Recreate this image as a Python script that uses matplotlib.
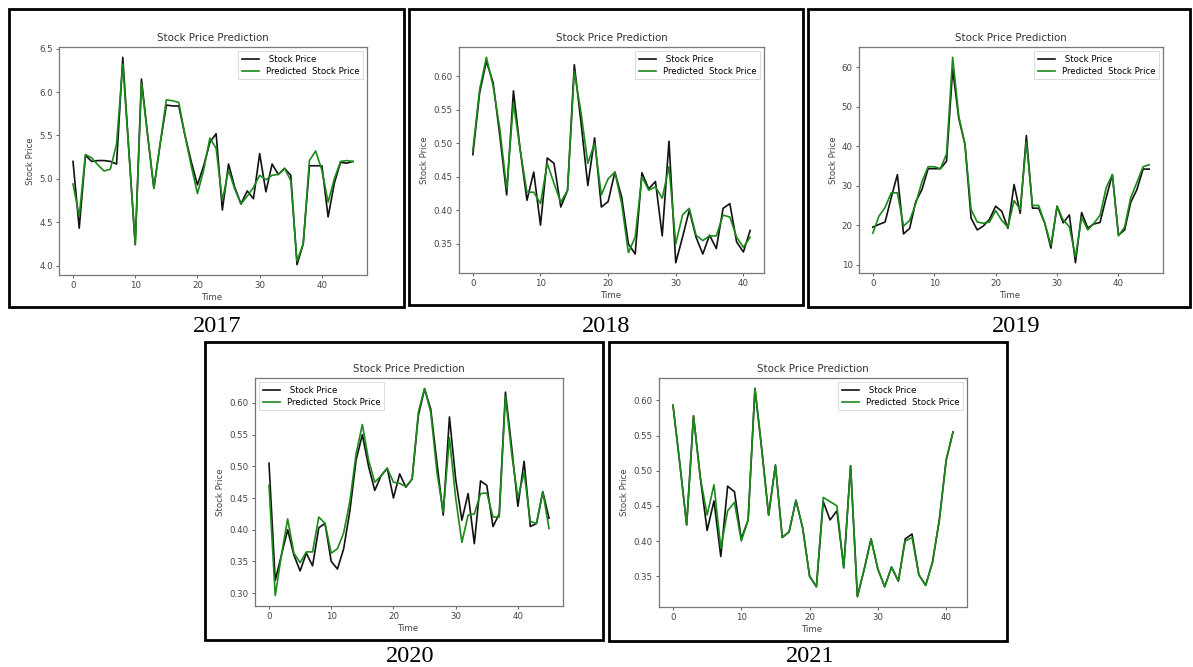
import matplotlib
matplotlib.use('Agg')
import matplotlib.pyplot as plt
from matplotlib.patches import Rectangle

# one list per series
years = ['2017', '2018', '2019', '2020', '2021']

actual_2017 = [5.20, 4.43, 5.27, 5.20, 5.21, 5.21, 5.20, 5.17, 6.40, 5.30,
               4.24, 6.15, 5.50, 4.89, 5.40, 5.85, 5.84, 5.84, 5.50, 5.20,
               4.93, 5.15, 5.42, 5.52, 4.64, 5.17, 4.90, 4.71, 4.86, 4.77,
               5.29, 4.85, 5.17, 5.05, 5.12, 5.04, 4.01, 4.25, 5.15, 5.15,
               5.15, 4.56, 4.95, 5.19, 5.18, 5.20]
pred_2017 = [4.94, 4.57, 5.28, 5.24, 5.16, 5.09, 5.11, 5.40, 6.32, 5.30,
             4.24, 6.10, 5.50, 4.89, 5.40, 5.91, 5.90, 5.88, 5.50, 5.15,
             4.83, 5.10, 5.47, 5.35, 4.75, 5.10, 4.88, 4.71, 4.80, 4.90,
             5.04, 4.99, 5.04, 5.05, 5.12, 4.98, 4.05, 4.25, 5.21, 5.32,
             5.10, 4.73, 5.00, 5.20, 5.21, 5.20]

actual_2018 = [0.483, 0.575, 0.622, 0.590, 0.510, 0.423, 0.578, 0.490, 0.415, 0.457,
               0.378, 0.478, 0.470, 0.405, 0.430, 0.617, 0.530, 0.437, 0.508, 0.405,
               0.413, 0.457, 0.420, 0.350, 0.335, 0.456, 0.432, 0.443, 0.362, 0.503,
               0.322, 0.360, 0.400, 0.360, 0.335, 0.363, 0.343, 0.403, 0.410, 0.353,
               0.338, 0.370]
pred_2018 = [0.490, 0.580, 0.628, 0.585, 0.520, 0.432, 0.560, 0.490, 0.427, 0.427,
             0.410, 0.470, 0.440, 0.412, 0.430, 0.607, 0.545, 0.470, 0.500, 0.423,
             0.447, 0.457, 0.410, 0.337, 0.360, 0.450, 0.430, 0.435, 0.418, 0.465,
             0.350, 0.393, 0.403, 0.363, 0.355, 0.362, 0.362, 0.393, 0.390, 0.360,
             0.345, 0.360]

actual_2019 = [19.5, 20.2, 20.8, 27.0, 32.8, 17.8, 19.2, 26.0, 29.0, 34.3,
               34.3, 34.3, 36.2, 59.5, 47.0, 40.5, 21.8, 18.8, 19.8, 21.5,
               24.8, 23.5, 19.2, 30.3, 23.0, 42.7, 24.3, 24.3, 20.5, 14.2,
               24.8, 20.6, 22.6, 10.5, 23.2, 19.3, 20.3, 20.7, 27.0, 32.8,
               17.5, 18.8, 25.8, 29.0, 34.2, 34.2]
pred_2019 = [18.0, 22.3, 24.5, 28.2, 28.2, 19.8, 21.2, 25.5, 31.0, 34.8,
             34.8, 34.3, 38.0, 62.5, 47.5, 40.5, 24.0, 20.8, 20.5, 20.8,
             23.7, 21.2, 19.5, 26.2, 24.0, 41.0, 25.0, 25.0, 20.5, 15.0,
             24.8, 21.3, 19.6, 12.0, 22.0, 18.8, 20.5, 22.5, 29.5, 32.8,
             17.3, 19.5, 27.0, 30.8, 34.8, 35.3]

actual_2020 = [0.505, 0.320, 0.360, 0.400, 0.360, 0.335, 0.363, 0.343, 0.403, 0.410,
               0.350, 0.338, 0.370, 0.430, 0.510, 0.550, 0.500, 0.462, 0.485, 0.497,
               0.450, 0.488, 0.467, 0.480, 0.580, 0.622, 0.590, 0.505, 0.423, 0.578,
               0.480, 0.415, 0.457, 0.378, 0.477, 0.470, 0.405, 0.425, 0.617, 0.530,
               0.437, 0.508, 0.405, 0.410, 0.460, 0.418]
pred_2020 = [0.470, 0.296, 0.360, 0.417, 0.363, 0.348, 0.365, 0.365, 0.420, 0.410,
             0.363, 0.370, 0.395, 0.445, 0.520, 0.566, 0.510, 0.475, 0.485, 0.497,
             0.475, 0.473, 0.468, 0.480, 0.585, 0.623, 0.585, 0.490, 0.428, 0.545,
             0.450, 0.380, 0.423, 0.425, 0.457, 0.458, 0.420, 0.420, 0.610, 0.520,
             0.450, 0.490, 0.413, 0.410, 0.460, 0.402]

actual_2021 = [0.593, 0.510, 0.423, 0.578, 0.490, 0.415, 0.457, 0.378, 0.478, 0.470,
               0.403, 0.430, 0.617, 0.530, 0.437, 0.508, 0.405, 0.413, 0.458, 0.418,
               0.350, 0.335, 0.456, 0.430, 0.443, 0.362, 0.507, 0.321, 0.360, 0.403,
               0.360, 0.335, 0.363, 0.343, 0.403, 0.410, 0.352, 0.337, 0.370, 0.430,
               0.515, 0.555]
pred_2021 = [0.593, 0.510, 0.423, 0.578, 0.490, 0.437, 0.480, 0.390, 0.443, 0.455,
             0.400, 0.430, 0.617, 0.530, 0.437, 0.508, 0.405, 0.413, 0.458, 0.418,
             0.350, 0.335, 0.462, 0.456, 0.450, 0.362, 0.507, 0.321, 0.360, 0.403,
             0.360, 0.335, 0.363, 0.343, 0.400, 0.405, 0.352, 0.337, 0.370, 0.430,
             0.515, 0.555]

actual_all = [actual_2017, actual_2018, actual_2019, actual_2020, actual_2021]
pred_all = [pred_2017, pred_2018, pred_2019, pred_2020, pred_2021]
legend_loc = ['upper right', 'upper right', 'upper right', 'upper left', 'upper right']

W, H = 1193, 667
# pixel boxes: (left, top, right, bottom)
axes_px = [(59, 47, 367, 275), (459, 47, 764, 273), (859, 47, 1163, 273),
           (255, 378, 563, 606), (659, 378, 967, 607)]
frame_px = [(9, 9, 404, 307), (409, 9, 803, 305), (808, 9, 1190, 307),
            (205, 342, 603, 640), (609, 342, 1007, 641)]
year_px = [(217, 326), (606, 326), (1016, 326), (410, 657), (810, 657)]


def fig_rect(l, t, r, b):
    return [l / W, 1 - b / H, (r - l) / W, (b - t) / H]


fig = plt.figure(figsize=(W / 100, H / 100), dpi=100)
fig.patch.set_facecolor('white')

for i in range(5):
    l, t, r, b = frame_px[i]
    x0, y0, w, h = fig_rect(l, t, r, b)
    fig.patches.append(Rectangle((x0, y0), w, h, transform=fig.transFigure,
                                 fill=False, edgecolor='black', linewidth=2.0))

    ax = fig.add_axes(fig_rect(*axes_px[i]))
    steps = list(range(len(actual_all[i])))
    ax.plot(steps, actual_all[i], color='#111111', linewidth=1.2, label=' Stock Price')
    ax.plot(steps, pred_all[i], color='#1a8a1a', linewidth=1.2, label='Predicted  Stock Price')
    ax.set_title('Stock Price Prediction', fontsize=7.4, color='#333333', pad=4)
    ax.set_xlabel('Time', fontsize=6.2, color='#444444', labelpad=2)
    ax.set_ylabel('Stock Price', fontsize=6.2, color='#444444', labelpad=3)
    ax.tick_params(labelsize=6.2, colors='#444444', length=2.5, width=0.6, pad=2)
    for sp in ax.spines.values():
        sp.set_color('#777777')
        sp.set_linewidth(0.9)
    leg = ax.legend(loc=legend_loc[i], fontsize=6.2, handlelength=2.0,
                    borderpad=0.4, labelspacing=0.35, fancybox=False)
    leg.get_frame().set_edgecolor('#cccccc')
    leg.get_frame().set_linewidth(0.6)

    xc, yc = year_px[i]
    fig.text(xc / W, 1 - yc / H, years[i], ha='center', va='center',
             fontsize=17.5, family='Liberation Serif', color='black')

fig.savefig('out.png', dpi=100, facecolor='white')
